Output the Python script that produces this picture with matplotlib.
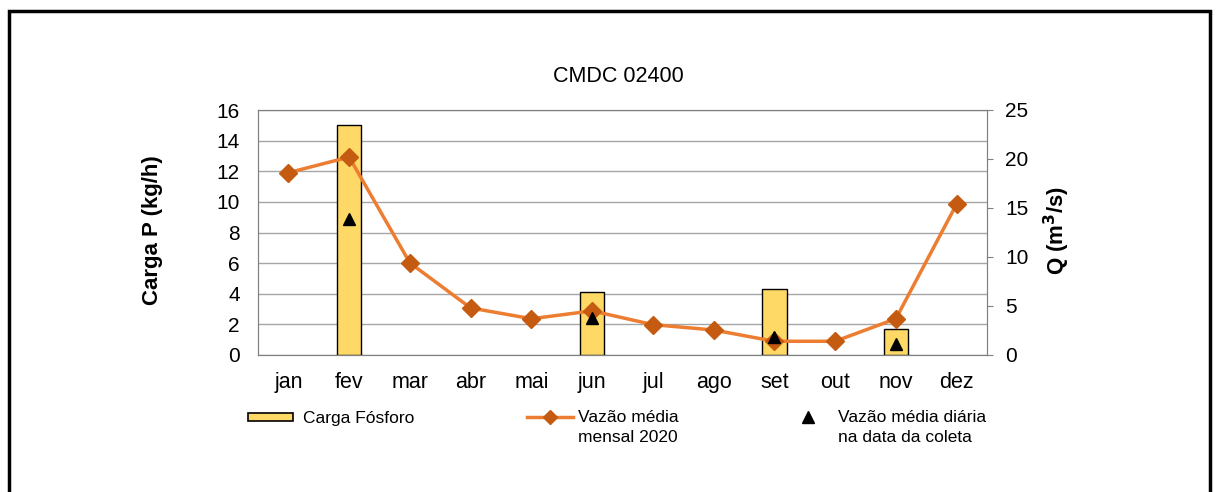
import numpy as np
import matplotlib
matplotlib.use('Agg')
import matplotlib.pyplot as plt
from matplotlib.lines import Line2D
from matplotlib.patches import Rectangle

plt.rcParams['font.family'] = ['Liberation Sans', 'DejaVu Sans']

meses = ['jan', 'fev', 'mar', 'abr', 'mai', 'jun', 'jul', 'ago', 'set', 'out', 'nov', 'dez']
# carga de fosforo (kg/h), nan = sem coleta
carga = [np.nan, 15.0, np.nan, np.nan, np.nan, 4.1, np.nan, np.nan, 4.3, np.nan, 1.7, np.nan]
# vazao media mensal 2020 (m3/s)
vazao_mensal = [18.6, 20.2, 9.4, 4.8, 3.7, 4.5, 3.1, 2.55, 1.4, 1.4, 3.7, 15.4]
# vazao media diaria na data da coleta (m3/s)
vazao_coleta = [np.nan, 13.9, np.nan, np.nan, np.nan, 3.8, np.nan, np.nan, 1.8, np.nan, 1.1, np.nan]

W, H = 1217, 492
fig = plt.figure(figsize=(W / 100, H / 100), dpi=100)
ax = fig.add_axes([258 / W, 1 - 355 / H, 729 / W, 245 / H])
x = np.arange(len(meses))

ax.bar(x, carga, width=0.4, color='#FFD966', edgecolor='black', linewidth=1.0, zorder=3)
ax.set_ylim(0, 16)
ax.set_yticks(range(0, 17, 2))
ax.set_xlim(-0.5, 11.5)
ax.set_xticks(x)
ax.set_xticklabels(meses)
ax.grid(axis='y', color='#a6a6a6', linewidth=1.0, zorder=0)
ax.tick_params(axis='y', length=0, labelsize=15, pad=13)
ax.tick_params(axis='x', length=0, labelsize=15.5, pad=12)
for s in ax.spines.values():
    s.set_color('#808080')
ax.set_ylabel('Carga P (kg/h)', fontsize=16, fontweight='bold')
ax.yaxis.set_label_coords(-0.13, 0.51)

ax2 = ax.twinx()
ax2.plot(x, vazao_mensal, color='#ED7D31', linewidth=2.5, marker='D', markersize=9,
         markerfacecolor='#C55A11', markeredgecolor='#C55A11', zorder=4)
ax2.plot(x, vazao_coleta, linestyle='none', marker='^', markersize=9, color='black', zorder=5)
ax2.set_ylim(0, 25)
ax2.set_yticks(range(0, 26, 5))
ax2.tick_params(axis='y', length=4, color='#808080', labelsize=15, pad=9)
for s in ax2.spines.values():
    s.set_color('#808080')
ax2.set_ylabel('Q (m$^\\mathbf{3}$/s)', fontsize=16, fontweight='bold')
ax2.yaxis.set_label_coords(1.075, 0.51)

fig.text(618 / W, 1 - 76 / H, 'CMDC 02400', fontsize=15.5, ha='center', va='center')

# legenda desenhada a mao (primeira linha do texto alinhada com o simbolo)
def fy(py):
    return 1 - py / H

leg_fs = 12.5
fig.patches.append(Rectangle((248 / W, fy(421)), 45 / W, 8 / H, transform=fig.transFigure,
                             facecolor='#FFD966', edgecolor='black', linewidth=1.2))
fig.text(303 / W, fy(418), 'Carga Fósforo', fontsize=leg_fs, va='center')

fig.add_artist(Line2D([527 / W, 573 / W], [fy(417), fy(417)], transform=fig.transFigure,
                      color='#ED7D31', linewidth=2.5))
fig.add_artist(Line2D([550 / W], [fy(417)], transform=fig.transFigure, marker='D',
                      markersize=7, color='#C55A11'))
fig.text(578 / W, fy(418), 'Vazão média', fontsize=leg_fs, va='center')
fig.text(578 / W, fy(438), 'mensal 2020', fontsize=leg_fs, va='center')

fig.add_artist(Line2D([808 / W], [fy(417)], transform=fig.transFigure, marker='^',
                      markersize=8, color='black', linestyle='none'))
fig.text(838 / W, fy(418), 'Vazão média diária', fontsize=leg_fs, va='center')
fig.text(838 / W, fy(438), 'na data da coleta', fontsize=leg_fs, va='center')

# moldura externa
fig.patches.append(Rectangle((0.0075, -0.05), 0.987, 1.028, transform=fig.transFigure,
                             fill=False, edgecolor='black', linewidth=2.5))

fig.savefig('out.png', dpi=100)
